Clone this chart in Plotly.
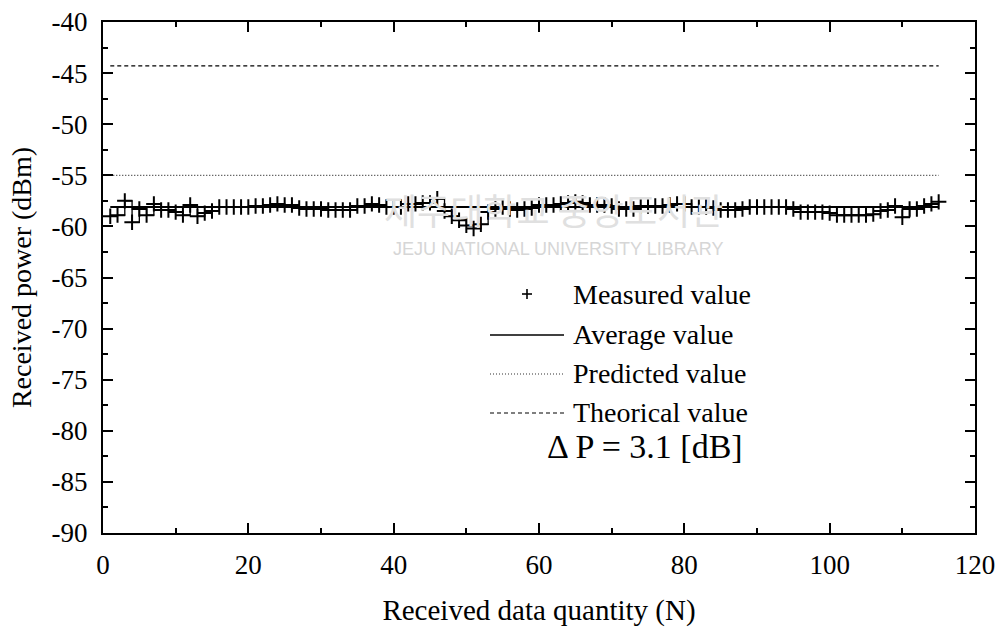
import plotly.graph_objects as go

# Received power per sample index (dBm)
n_index = list(range(1, 116))
measured = [
    -59.0, -58.9, -57.5, -59.6, -58.3, -58.9, -57.8, -58.4, -58.4, -58.6,
    -58.9, -57.9, -59.0, -58.7, -58.5, -58.1, -58.1, -58.1, -58.1, -58.1,
    -58.0, -58.0, -57.9, -57.8, -57.9, -57.9, -58.2, -58.3, -58.3, -58.3,
    -58.4, -58.4, -58.4, -58.4, -58.0, -58.0, -57.8, -57.9, -58.1, -58.1,
    -58.1, -57.8, -57.8, -57.7, -57.7, -57.3, -58.5, -59.0, -59.4, -59.9,
    -60.2, -59.8, -58.6, -58.3, -58.1, -58.3, -58.4, -58.3, -58.2, -57.9,
    -57.9, -57.9, -57.8, -57.7, -57.6, -57.7, -57.9, -57.9, -57.9, -58.0,
    -58.3, -58.3, -58.3, -58.0, -58.0, -58.0, -58.0, -57.9, -57.8, -57.8,
    -58.1, -58.1, -58.1, -58.2, -58.4, -58.4, -58.4, -58.3, -58.1, -58.1,
    -58.1, -58.1, -58.1, -58.1, -58.3, -58.6, -58.6, -58.6, -58.6, -58.7,
    -58.9, -58.9, -58.9, -58.9, -58.9, -58.8, -58.5, -58.4, -58.0, -59.1,
    -58.3, -58.3, -58.0, -57.8, -57.6,
]
average_value = -58.1
predicted_value = -55.0
theorical_value = -44.3

x_ticks = [0, 20, 40, 60, 80, 100, 120]
y_ticks = [-90, -85, -80, -75, -70, -65, -60, -55, -50, -45, -40]

legend_labels = ["Measured value", "Average value", "Predicted value", "Theorical value"]
delta_label = "\u0394 P = {:.1f} [dB]".format(predicted_value - average_value)

FONT = "Liberation Serif, Times New Roman, serif"
W, H = 1002, 628
PL, PR, PT, PB = 103, 975, 22, 533


def paper_x(xp):
    return (xp - PL) / (PR - PL)


def paper_y(yp):
    return (PB - yp) / (PB - PT)


fig = go.Figure()

fig.add_trace(go.Scatter(
    x=n_index, y=measured, mode="lines+markers",
    line=dict(color="black", width=1.3, shape="hv"),
    marker=dict(symbol="cross-thin", size=11, line=dict(color="black", width=2)),
    showlegend=False,
))
span = [n_index[0], n_index[-1]]
fig.add_trace(go.Scatter(
    x=span, y=[average_value] * 2, mode="lines",
    line=dict(color="black", width=2), showlegend=False,
))
fig.add_trace(go.Scatter(
    x=span, y=[predicted_value] * 2, mode="lines",
    line=dict(color="#333333", width=1.2, dash="1px,2px"), showlegend=False,
))
fig.add_trace(go.Scatter(
    x=span, y=[theorical_value] * 2, mode="lines",
    line=dict(color="black", width=1.2, dash="4px,3px"), showlegend=False,
))

annotations = []
shapes = []

# faint library watermark
annotations.append(dict(
    x=paper_x(553), y=paper_y(209), xref="paper", yref="paper",
    text="제주대학교 중앙도서관", showarrow=False,
    font=dict(family="Noto Sans CJK KR", size=36, color="#e0e0e0"),
    xanchor="center", yanchor="middle",
))
annotations.append(dict(
    x=paper_x(558), y=paper_y(249), xref="paper", yref="paper",
    text="JEJU NATIONAL UNIVERSITY LIBRARY", showarrow=False,
    font=dict(family="Liberation Sans", size=18, color="#d6d6d6"),
    xanchor="center", yanchor="middle",
))

# legend block
rows_y = [294, 334, 373, 412]
text_x = 571
# plus sign for the measured entry
shapes.append(dict(type="line", xref="paper", yref="paper",
                   x0=paper_x(522), x1=paper_x(532), y0=paper_y(294), y1=paper_y(294),
                   line=dict(color="black", width=1.6)))
shapes.append(dict(type="line", xref="paper", yref="paper",
                   x0=paper_x(527), x1=paper_x(527), y0=paper_y(289), y1=paper_y(299),
                   line=dict(color="black", width=1.6)))
sample_styles = [None,
                 dict(color="black", width=1.5),
                 dict(color="#333333", width=1.2, dash="1px,2px"),
                 dict(color="black", width=1.2, dash="4px,3px")]
for label, yy, style in zip(legend_labels, rows_y, sample_styles):
    annotations.append(dict(
        x=paper_x(text_x), y=paper_y(yy), xref="paper", yref="paper",
        text=label, showarrow=False, font=dict(family=FONT, size=28, color="black"),
        xanchor="left", yanchor="middle",
    ))
    if style is not None:
        shapes.append(dict(
            type="line", xref="paper", yref="paper",
            x0=paper_x(490), x1=paper_x(564), y0=paper_y(yy + 1), y1=paper_y(yy + 1),
            line=style,
        ))

annotations.append(dict(
    x=paper_x(545), y=paper_y(446), xref="paper", yref="paper",
    text=delta_label, showarrow=False, font=dict(family=FONT, size=34, color="black"),
    xanchor="left", yanchor="middle",
))

tick_font = dict(family=FONT, size=27, color="black")

fig.update_layout(
    width=W, height=H,
    margin=dict(l=PL, r=W - PR, t=PT, b=H - PB),
    paper_bgcolor="white", plot_bgcolor="white",
    font=dict(family=FONT, color="black"),
    showlegend=False,
    xaxis=dict(
        range=[0, 120], tickvals=x_ticks, ticktext=[str(v) for v in x_ticks],
        showline=True, linecolor="black", linewidth=2, mirror="allticks",
        ticks="inside", ticklen=10, tickwidth=1.5, tickcolor="black",
        showgrid=False, zeroline=False, tickfont=tick_font, automargin=False,
        minor=dict(dtick=10, ticks="inside", ticklen=5, tickwidth=1.5, tickcolor="black"),
        ticklabelstandoff=7,
        title=dict(text="Received data quantity (N)", standoff=20,
                   font=dict(family=FONT, size=29, color="black")),
    ),
    yaxis=dict(
        range=[-90, -40], tickvals=y_ticks, ticktext=[str(v) for v in y_ticks],
        showline=True, linecolor="black", linewidth=2, mirror="allticks",
        ticks="inside", ticklen=10, tickwidth=1.5, tickcolor="black",
        showgrid=False, zeroline=False, tickfont=tick_font, automargin=False,
        minor=dict(dtick=2.5, ticks="inside", ticklen=5, tickwidth=1.5, tickcolor="black"),
        ticklabelstandoff=8,
        title=dict(text="Received power (dBm)", standoff=12,
                   font=dict(family=FONT, size=28, color="black")),
    ),
    annotations=annotations,
    shapes=shapes,
)

fig.write_html("out.html")
